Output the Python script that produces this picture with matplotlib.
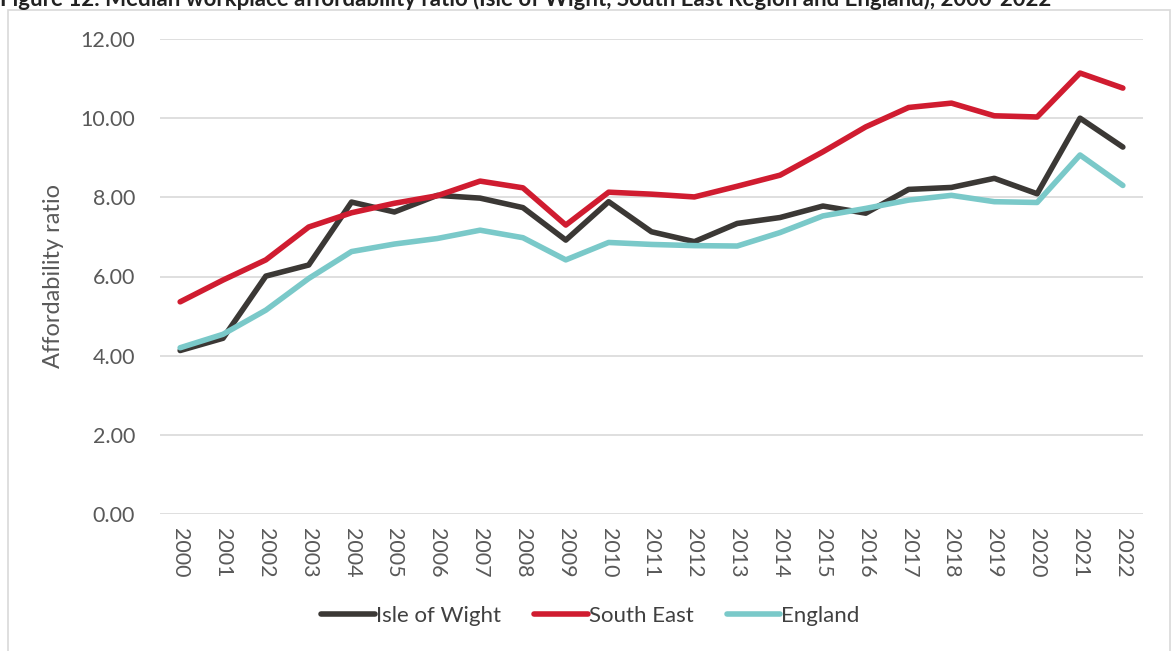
import numpy as np
import matplotlib.pyplot as plt
from matplotlib.patches import Rectangle

years = [str(y) for y in range(2000, 2023)]
isle_of_wight = [4.13, 4.44, 6.01, 6.29, 7.88, 7.63, 8.05, 7.98, 7.74, 6.92, 7.89, 7.13, 6.88,
                 7.34, 7.49, 7.78, 7.60, 8.20, 8.25, 8.48, 8.09, 10.00, 9.27]
south_east = [5.36, 5.91, 6.42, 7.25, 7.61, 7.85, 8.04, 8.41, 8.24, 7.30, 8.13, 8.08, 8.01,
              8.28, 8.56, 9.15, 9.78, 10.27, 10.38, 10.06, 10.03, 11.14, 10.76]
england = [4.20, 4.54, 5.15, 5.95, 6.63, 6.82, 6.96, 7.17, 6.98, 6.42, 6.86, 6.81, 6.78,
           6.77, 7.11, 7.53, 7.72, 7.93, 8.05, 7.89, 7.87, 9.07, 8.30]

plt.rcParams['font.family'] = ['Lato', 'DejaVu Sans']

fig = plt.figure(figsize=(11.73, 6.51), dpi=100)
# chart border
fig.patches.append(Rectangle((8 / 1173, -0.1), 1162 / 1173, 1.1 - 10 / 651, transform=fig.transFigure,
                             fill=False, edgecolor='#d9d9d9', linewidth=1.2))
# title is clipped by the top edge, as in the source image
fig.text(0.0, 1 - 6 / 651, "Figure 12: Median workplace affordability ratio (Isle of Wight, South East Region and England), 2000-2022",
         fontsize=16, fontweight='bold', color='#222222', va='baseline', ha='left')

ax = fig.add_axes([160 / 1173, 1 - 514 / 651, 983 / 1173, 475 / 651])
x = np.arange(len(years))
ax.plot(x, isle_of_wight, color='#3b3835', lw=4, label='Isle of Wight', solid_capstyle='round')
ax.plot(x, south_east, color='#d01c30', lw=4, label='South East', solid_capstyle='round')
ax.plot(x, england, color='#7ac9c9', lw=4, label='England', solid_capstyle='round')

ax.set_ylim(0, 12)
ax.set_xlim(-0.47, len(years) - 0.53)
ax.set_yticks(np.arange(0, 12.1, 2))
ax.set_yticklabels(['%.2f' % v for v in np.arange(0, 12.1, 2)])
ax.set_xticks(x)
ax.set_xticklabels(years, rotation=-90)
ax.tick_params(axis='both', length=0, labelsize=15.5, colors='#595959')
ax.tick_params(axis='y', pad=18)
ax.tick_params(axis='x', pad=10)
ax.grid(axis='y', color='#d9d9d9', lw=1.2)
ax.set_axisbelow(True)
for s in ax.spines.values():
    s.set_visible(False)
ax.set_ylabel('Affordability ratio', fontsize=17, color='#595959', labelpad=12)

ax.legend(loc='center', bbox_to_anchor=(0.438, -0.215), ncol=3, frameon=False, fontsize=16,
          handlelength=2.4, handletextpad=0.05, columnspacing=1.5, labelcolor='#404040')

fig.savefig('out.png', dpi=100)
